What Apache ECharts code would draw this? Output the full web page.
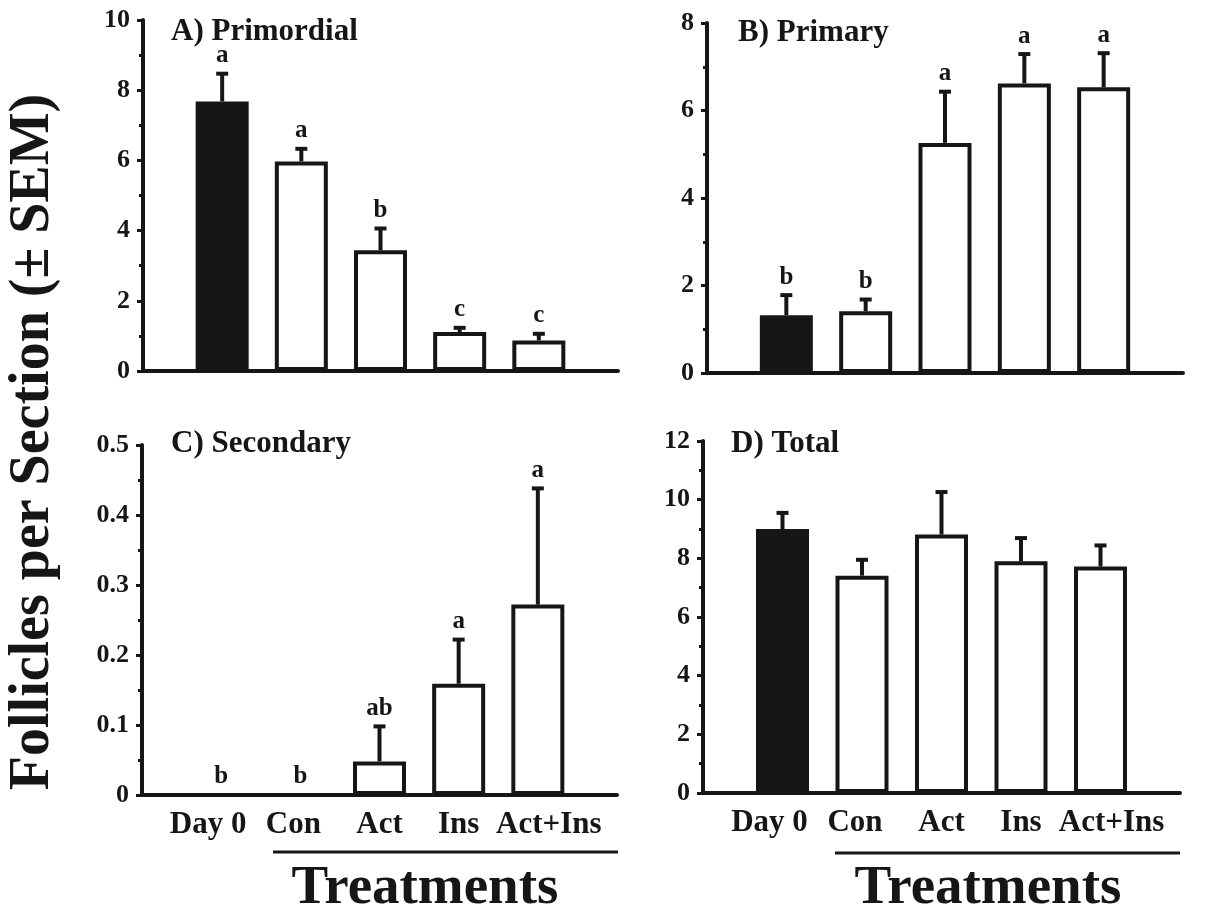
<!DOCTYPE html>
<html>
<head>
<meta charset="utf-8">
<script src="https://cdn.jsdelivr.net/npm/echarts@6/dist/echarts.min.js"></script>
<style>
  html, body { margin: 0; padding: 0; background: #fff; }
  #main { width: 1221px; height: 911px; }
</style>
</head>
<body>
<div id="main"></div>
<script>
var categories = ['Day 0', 'Con', 'Act', 'Ins', 'Act+Ins'];

var primordialMean = [7.68, 5.97, 3.44, 1.11, 0.87];
var primordialSem = [0.79, 0.36, 0.62, 0.12, 0.19];
var primordialLetters = ['a', 'a', 'b', 'c', 'c'];

var primaryMean = [1.32, 1.41, 5.26, 6.62, 6.53];
var primarySem = [0.46, 0.27, 1.17, 0.67, 0.78];
var primaryLetters = ['b', 'b', 'a', 'a', 'a'];

var secondaryMean = [0, 0, 0.048, 0.159, 0.272];
var secondarySem = [0, 0, 0.050, 0.063, 0.166];
var secondaryLetters = ['b', 'b', 'ab', 'a', 'a'];

var totalMean = [9.0, 7.41, 8.81, 7.90, 7.72];
var totalSem = [0.55, 0.54, 1.45, 0.79, 0.72];
var totalLetters = ['', '', '', '', ''];

var ink = '#161616';
var serif = '"Liberation Serif", "Times New Roman", serif';

var myChart = echarts.init(document.getElementById('main'));

var grids = [
    {left: 143, top: 20, width: 475, height: 351},
    {left: 707, top: 23, width: 476, height: 350},
    {left: 142, top: 445, width: 475, height: 350},
    {left: 703, top: 441, width: 477, height: 352}
];
var yMax = [10, 8, 0.5, 12];
var yStep = [2, 2, 0.1, 2];

// the printed labels sit a little off the bar centres
var labelShift = [-13, -7, 0, 0, 11];
var labelRich = {};
categories.forEach(function (c, k) {
    var s = labelShift[k];
    labelRich['c' + k] = {
        fontFamily: serif, fontWeight: 'bold', fontSize: 31, color: ink,
        padding: s < 0 ? [0, -2 * s, 0, 0] : [0, 0, 0, 2 * s]
    };
});

function xAxisFor(i, showLabels) {
    return {
        type: 'value', gridIndex: i, min: 0, max: 6, interval: 1,
        splitLine: {show: false},
        axisTick: {show: false},
        axisLine: {lineStyle: {color: ink, width: 4}},
        axisLabel: {
            show: showLabels, margin: 14,
            fontFamily: serif, fontWeight: 'bold', fontSize: 31, color: ink,
            rich: labelRich,
            formatter: function (v) {
                var c = categories[v - 1];
                return c ? '{c' + (v - 1) + '|' + c + '}' : '';
            }
        }
    };
}

function yAxisFor(i) {
    return {
        type: 'value', gridIndex: i, min: 0, max: yMax[i], interval: yStep[i],
        splitLine: {show: false},
        axisLine: {show: true, lineStyle: {color: ink, width: 4}},
        axisTick: {show: true, length: 6, lineStyle: {color: ink, width: 3}},
        minorTick: {show: true, splitNumber: 2, length: 4, lineStyle: {color: ink, width: 3}},
        axisLabel: {margin: 13, fontFamily: serif, fontWeight: 'bold', fontSize: 26, color: ink}
    };
}

function barSeries(i, mean) {
    return {
        type: 'bar', xAxisIndex: i, yAxisIndex: i, barWidth: 53,
        data: mean.map(function (v, k) {
            return {
                value: [k + 1, v],
                itemStyle: {color: k === 0 ? ink : '#fff', borderColor: ink, borderWidth: 4}
            };
        }),
        silent: true
    };
}

function errorSeries(i, mean, sem, letters) {
    return {
        type: 'custom', xAxisIndex: i, yAxisIndex: i, silent: true, z: 3,
        data: mean.map(function (v, k) { return [k + 1, v, sem[k]]; }),
        renderItem: function (params, api) {
            var x = api.value(0), m = api.value(1), e = api.value(2);
            var p0 = api.coord([x, m]);
            var p1 = api.coord([x, m + e]);
            var kids = [];
            if (e > 0) {
                kids.push({type: 'line', shape: {x1: p0[0], y1: p0[1], x2: p1[0], y2: p1[1]},
                    style: {stroke: ink, lineWidth: 4}});
                kids.push({type: 'line', shape: {x1: p1[0] - 6, y1: p1[1], x2: p1[0] + 6, y2: p1[1]},
                    style: {stroke: ink, lineWidth: 4}});
            }
            var t = letters[params.dataIndex];
            if (t) {
                kids.push({type: 'text', x: p1[0], y: p1[1] - 18,
                    style: {text: t, fill: ink, font: 'bold 25px ' + serif,
                        textAlign: 'center', textVerticalAlign: 'middle'}});
            }
            return {type: 'group', children: kids};
        }
    };
}

var titleStyle = {fontFamily: serif, fontWeight: 'bold', fontSize: 31, color: ink};

option = {
    backgroundColor: '#fff',
    animation: false,
    title: [
        {text: 'A) Primordial', left: 166, top: 11, textStyle: titleStyle},
        {text: 'B) Primary', left: 733, top: 12, textStyle: titleStyle},
        {text: 'C) Secondary', left: 166, top: 423, textStyle: titleStyle},
        {text: 'D) Total', left: 726, top: 423, textStyle: titleStyle}
    ],
    grid: grids,
    xAxis: [xAxisFor(0, false), xAxisFor(1, false), xAxisFor(2, true), xAxisFor(3, true)],
    yAxis: [yAxisFor(0), yAxisFor(1), yAxisFor(2), yAxisFor(3)],
    series: [
        barSeries(0, primordialMean), errorSeries(0, primordialMean, primordialSem, primordialLetters),
        barSeries(1, primaryMean), errorSeries(1, primaryMean, primarySem, primaryLetters),
        barSeries(2, secondaryMean), errorSeries(2, secondaryMean, secondarySem, secondaryLetters),
        barSeries(3, totalMean), errorSeries(3, totalMean, totalSem, totalLetters)
    ],
    graphic: [
        {type: 'text', x: 34, y: 442, rotation: Math.PI / 2,
            style: {text: 'Follicles per Section (\u00b1 SEM)', fill: ink, font: 'bold 56px ' + serif,
                textAlign: 'center', textVerticalAlign: 'middle'}},
        {type: 'line', shape: {x1: 273, y1: 852, x2: 618, y2: 852}, style: {stroke: ink, lineWidth: 3}},
        {type: 'line', shape: {x1: 835, y1: 853, x2: 1180, y2: 853}, style: {stroke: ink, lineWidth: 3}},
        {type: 'text', x: 425, y: 889,
            style: {text: 'Treatments', fill: ink, font: 'bold 55px ' + serif,
                textAlign: 'center', textVerticalAlign: 'middle'}},
        {type: 'text', x: 988, y: 889,
            style: {text: 'Treatments', fill: ink, font: 'bold 55px ' + serif,
                textAlign: 'center', textVerticalAlign: 'middle'}}
    ]
};

myChart.setOption(option);
</script>
</body>
</html>
